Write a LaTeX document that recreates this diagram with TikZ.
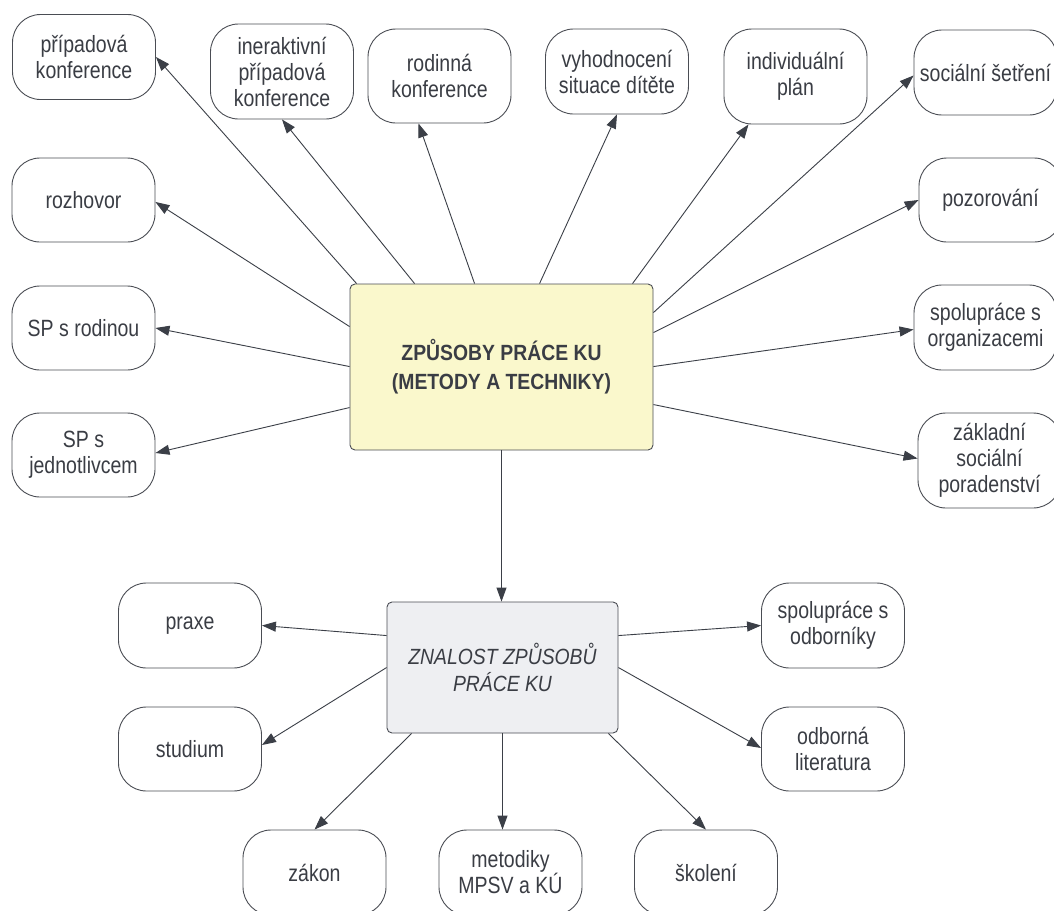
\documentclass[tikz,border=0pt]{standalone}
\usepackage{fontspec}
\usetikzlibrary{arrows.meta}
\newfontfamily\lib[FakeStretch=0.83]{Liberation Sans}
\newfontfamily\hubf[FakeStretch=0.88]{Liberation Sans}
\definecolor{txt}{HTML}{3A3D44}
\definecolor{edgecol}{HTML}{4A4D54}
\definecolor{arr}{HTML}{3B3F47}
\definecolor{yel}{HTML}{FAF8CC}
\definecolor{gry}{HTML}{EEEFF2}
\begin{document}
\begin{tikzpicture}[x=1pt,y=-1pt,
 box/.style={draw=edgecol, line width=0.9pt, rounded corners=28pt, fill=white, minimum width=143pt, minimum height=85pt, inner sep=0pt, align=center, text=txt, font=\lib\fontsize{23.5pt}{26pt}\selectfont},
 hub/.style={draw=edgecol, line width=0.9pt, rounded corners=5pt, inner sep=0pt, align=center, text=txt},
 link/.style={draw=arr, line width=0.9pt, -{Triangle[length=14pt,width=10pt]}}]
\useasboundingbox (0,0) rectangle (1054,910);
\fill[white] (0,0) rectangle (1054,910);
\clip (0,0) rectangle (1054,910);
% top row
\node[box] (p1) at (84,57) {případová\\konference};
\node[box, minimum height=95pt] (p2) at (282,71.5) {ineraktivní\\případová\\konference};
\node[box, minimum height=94pt] (p3) at (439.5,76) {rodinná\\konference};
\node[box] (p4) at (617,71.5) {vyhodnocení\\situace dítěte};
\node[box, minimum height=95pt] (p5) at (795.5,76.5) {individuální\\plán};
\node[box] (p6) at (985.5,72.5) {sociální šetření};
% right column
\node[box, minimum height=84pt] (p7) at (990.5,200) {pozorování};
\node[box] (p8) at (985.5,327.5) {spolupráce s\\organizacemi};
\node[box, minimum height=95pt] (p9) at (989.5,460.5) {základní\\sociální\\poradenství};
% left column
\node[box, minimum height=84pt] (l1) at (83.5,200) {rozhovor};
\node[box, minimum height=84pt] (l2) at (83.5,328) {SP s rodinou};
\node[box, minimum height=84pt] (l3) at (83.5,455) {SP s\\jednotlivcem};
% hubs
\node[hub, fill=yel, minimum width=303pt, minimum height=166pt, font=\hubf\bfseries\fontsize{22pt}{29pt}\selectfont] (main) at (501.5,367) {ZPŮSOBY PRÁCE KU\\(METODY A TECHNIKY)};
\node[hub, fill=gry, minimum width=231pt, minimum height=131pt, font=\hubf\itshape\fontsize{22pt}{27pt}\selectfont] (know) at (502.5,667.5) {ZNALOST ZPŮSOBŮ\\PRÁCE KU};
% bottom
\node[box] (b1) at (190,625.5) {praxe};
\node[box, minimum height=84pt] (b2) at (190,749) {studium};
\node[box] (b3) at (314.5,872.5) {zákon};
\node[box] (b4) at (510.5,872.5) {metodiky\\MPSV a KÚ};
\node[box] (b5) at (706,872.5) {školení};
\node[box] (b6) at (833,625.5) {spolupráce s\\odborníky};
\node[box, minimum height=84pt] (b7) at (833,749) {odborná\\literatura};
% connectors from main
\draw[link] ([shift={(7,0)}]main.north west) -- (p1.east);
\draw[link] ([shift={(65,0)}]main.north west) -- (p2.south);
\draw[link] ([shift={(125,0)}]main.north west) -- ([shift={(-21,0)}]p3.south);
\draw[link] ([shift={(190,0)}]main.north west) -- (p4.south);
\draw[link] ([shift={(283,0)}]main.north west) -- ([shift={(-47,0)}]p5.south);
\draw[link] ([shift={(0,29)}]main.north east) -- ([shift={(0,3)}]p6.west);
\draw[link] ([shift={(0,49)}]main.north east) -- (p7.west);
\draw[link] ([shift={(0,83)}]main.north east) -- ([shift={(0,2)}]p8.west);
\draw[link] ([shift={(0,121)}]main.north east) -- ([shift={(0,-2)}]p9.west);
\draw[link] ([shift={(0,43)}]main.north west) -- ([shift={(0,2)}]l1.east);
\draw[link] ([shift={(0,83)}]main.north west) -- (l2.east);
\draw[link] ([shift={(0,124)}]main.north west) -- ([shift={(0,-2)}]l3.east);
\draw[link] (main.south) -- (main.south |- know.north);
% connectors from know
\draw[link] ([shift={(0,34)}]know.north west) -- (b1.east);
\draw[link] ([shift={(0,66)}]know.north west) -- ([shift={(0,-4)}]b2.east);
\draw[link] ([shift={(25,0)}]know.south west) -- (b3.north);
\draw[link] (know.south) -- (know.south |- b4.north);
\draw[link] ([shift={(-10,0)}]know.south east) -- (b5.north);
\draw[link] ([shift={(0,34)}]know.north east) -- (b6.west);
\draw[link] ([shift={(0,66)}]know.north east) -- ([shift={(0,-1)}]b7.west);
\end{tikzpicture}
\end{document}
